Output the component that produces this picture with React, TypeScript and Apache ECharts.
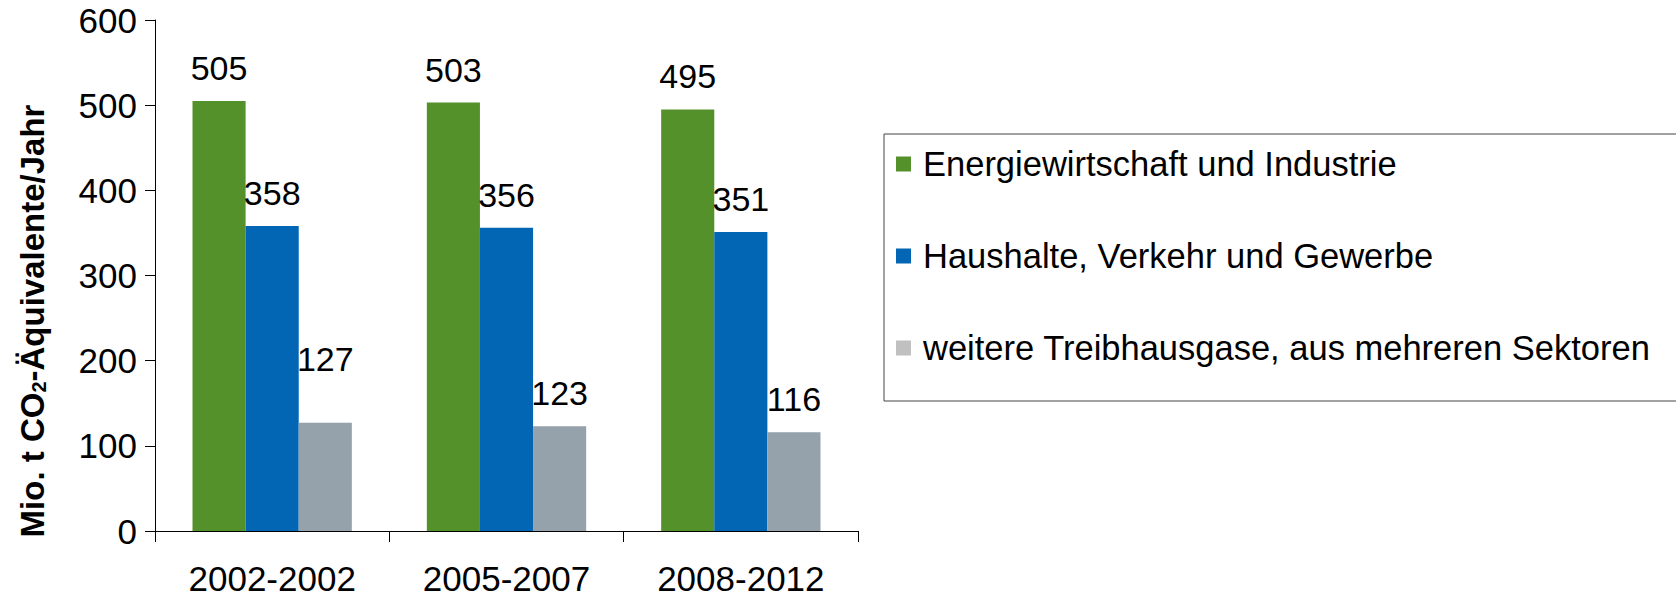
import React, { useEffect, useRef } from "react";
import * as echarts from "echarts";

const categories = ["2002-2002", "2005-2007", "2008-2012"];
const seriesNames = [
  "Energiewirtschaft und Industrie",
  "Haushalte, Verkehr und Gewerbe",
  "weitere Treibhausgase, aus mehreren Sektoren",
];
const energieValues = [505, 503, 495];
const haushalteValues = [358, 356, 351];
const weitereValues = [127, 123, 116];
const yTicks = [0, 100, 200, 300, 400, 500, 600];

const FONT = "'Liberation Sans', Arial, Helvetica, sans-serif";

export default function App() {
  const ref = useRef<HTMLDivElement>(null);

  useEffect(() => {
    if (!ref.current) return;
    const chart = echarts.init(ref.current, undefined, { renderer: "svg" });
    const labelBase = {
      show: true,
      position: "top",
      distance: 16,
      fontSize: 34,
      fontFamily: FONT,
      color: "#000",
    };
    const colors = ["#55912a", "#0266b4", "#95a1ab"];
    const legendColors = ["#55912a", "#0266b4", "#c0c0c0"];
    const allValues = [energieValues, haushalteValues, weitereValues];

    chart.setOption({
      animation: false,
      grid: { left: 155, right: 1676 - 858, top: 20, bottom: 67, containLabel: false },
      xAxis: {
        type: "category",
        data: categories,
        axisLine: { lineStyle: { color: "#000", width: 1 } },
        axisTick: { show: true, length: 11, lineStyle: { color: "#000" } },
        axisLabel: { fontSize: 35, fontFamily: FONT, color: "#000", margin: 30 },
      },
      yAxis: {
        type: "value",
        min: yTicks[0],
        max: yTicks[yTicks.length - 1],
        interval: 100,
        axisLine: { show: true, lineStyle: { color: "#000", width: 1 } },
        axisTick: { show: true, length: 10, lineStyle: { color: "#000" } },
        splitLine: { show: false },
        axisLabel: { fontSize: 35, fontFamily: FONT, color: "#000", margin: 18 },
      },
      legend: {
        orient: "vertical",
        left: 896,
        top: 144,
        padding: 0,
        itemWidth: 15,
        itemHeight: 15,
        itemGap: 52,
        icon: "rect",
        textStyle: {
          fontSize: 34.5,
          fontFamily: FONT,
          color: "#000",
          lineHeight: 40,
          padding: [0, 0, 0, 7],
        },
        data: seriesNames.map((n, i) => ({ name: n, itemStyle: { color: legendColors[i] } })),
      },
      graphic: [
        {
          type: "rect",
          shape: { x: 884, y: 134, width: 820, height: 267 },
          style: { fill: "none", stroke: "#444", lineWidth: 1 },
          silent: true,
        },
        {
          type: "text",
          x: 32,
          y: 321,
          rotation: Math.PI / 2,
          style: {
            text: "{b|Mio. t CO}{s|2}{b|-Äquivalente/Jahr}",
            textAlign: "center",
            textVerticalAlign: "middle",
            verticalAlign: "middle",
            rich: {
              b: { fontSize: 33, fontWeight: "bold", fontFamily: FONT, fill: "#000", color: "#000" },
              s: { fontSize: 20, fontWeight: "bold", fontFamily: FONT, fill: "#000", color: "#000", verticalAlign: "bottom" },
            },
          },
        },
      ],
      series: seriesNames.map((n, i) => ({
        name: n,
        type: "bar",
        barGap: "0%",
        barCategoryGap: "32%",
        itemStyle: { color: colors[i] },
        label: labelBase,
        data: allValues[i].map((v, j) =>
          i === 2 && j === 0 ? { value: v, label: { offset: [0, -31] } } : v
        ),
      })),
    });
    return () => chart.dispose();
  }, []);

  return (
    <div
      ref={ref}
      style={{ position: "fixed", left: 0, top: 0, width: 1676, height: 598, background: "#fff" }}
    />
  );
}
